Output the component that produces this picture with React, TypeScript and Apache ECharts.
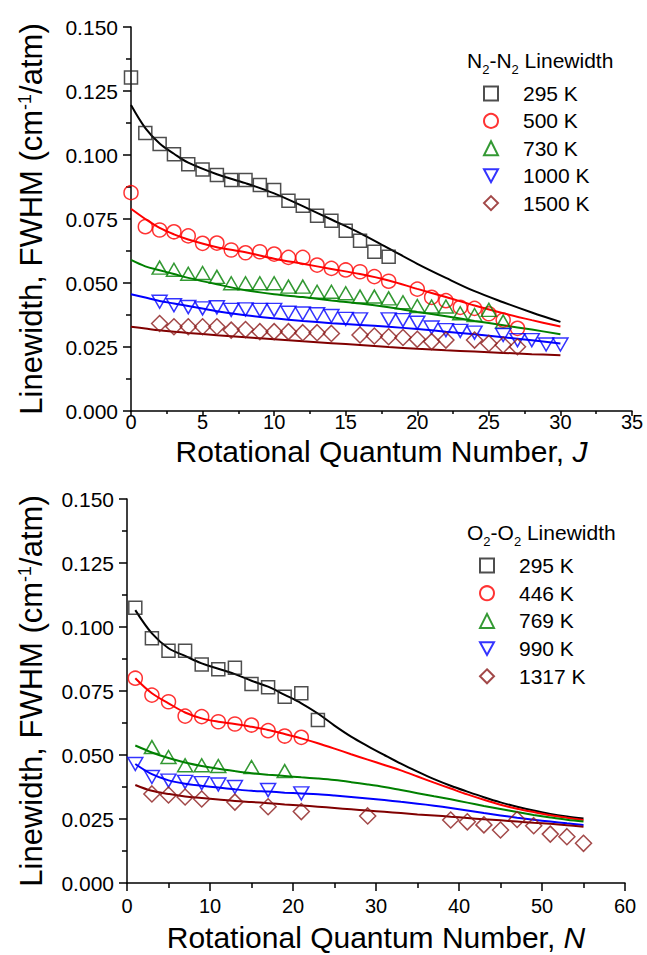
import React, { useEffect, useRef } from 'react';
import * as echarts from 'echarts';

const FONT = '"Liberation Sans", Arial, Helvetica, sans-serif';

// ---------- Top panel: N2-N2 linewidth vs J ----------
const topJ295 = [0, 1, 2, 3, 4, 5, 6, 7, 8, 9, 10, 11, 12, 13, 14, 15, 16, 17, 18];
const topW295 = [0.1303, 0.1086, 0.1043, 0.1003, 0.0964, 0.0943, 0.0922, 0.0902, 0.0902, 0.0883, 0.0863, 0.0821, 0.0802, 0.0763, 0.0743, 0.0704, 0.0665, 0.0622, 0.0603];

const topJ500 = [0, 1, 2, 3, 4, 5, 6, 7, 8, 9, 10, 11, 12, 13, 14, 15, 16, 17, 18, 20, 21, 22, 23, 24, 25, 26, 27];
const topW500 = [0.0853, 0.072, 0.0707, 0.07, 0.0684, 0.0655, 0.0656, 0.0629, 0.0618, 0.0622, 0.0613, 0.06, 0.06, 0.057, 0.0557, 0.0551, 0.0544, 0.0525, 0.0507, 0.0476, 0.0444, 0.0431, 0.0405, 0.0401, 0.038, 0.0355, 0.0323];

const topJ730 = [2, 3, 4, 5, 6, 7, 8, 9, 10, 11, 12, 13, 14, 15, 16, 17, 18, 19, 20, 21, 22, 23, 24, 25, 26];
const topW730 = [0.056, 0.0552, 0.0536, 0.0539, 0.0524, 0.0499, 0.0499, 0.0499, 0.0499, 0.0486, 0.0486, 0.0466, 0.0466, 0.046, 0.0447, 0.0447, 0.044, 0.0425, 0.041, 0.0408, 0.0408, 0.0382, 0.0375, 0.0395, 0.0349];

const topJ1000 = [2, 3, 4, 5, 6, 7, 8, 9, 10, 11, 12, 13, 14, 15, 16, 18, 19, 20, 21, 22, 23, 24, 26, 27, 28, 29, 30];
const topW1000 = [0.0427, 0.0413, 0.0406, 0.0401, 0.0405, 0.0395, 0.0397, 0.0395, 0.0395, 0.0384, 0.0381, 0.0378, 0.0371, 0.036, 0.0358, 0.0358, 0.0355, 0.0345, 0.0326, 0.0316, 0.0313, 0.0306, 0.0297, 0.0277, 0.0277, 0.026, 0.026];

const topJ1500 = [2, 3, 4, 5, 6, 7, 8, 9, 10, 11, 12, 13, 14, 16, 17, 18, 19, 20, 21, 22, 24, 25, 26, 27];
const topW1500 = [0.0342, 0.0329, 0.0329, 0.0329, 0.0329, 0.0316, 0.0318, 0.031, 0.031, 0.031, 0.0306, 0.0306, 0.0303, 0.0297, 0.0293, 0.029, 0.0287, 0.028, 0.0271, 0.0277, 0.0277, 0.0264, 0.0258, 0.0251];

// fitted curves (top)
const topFitJ = [0, 1, 2, 3, 4, 6, 8, 10, 12, 14, 16, 18, 20, 22, 24, 26, 28, 30];
const topFit295 = [0.1195, 0.1105, 0.1045, 0.1005, 0.097, 0.0925, 0.089, 0.085, 0.08, 0.0748, 0.0695, 0.0635, 0.0575, 0.052, 0.0468, 0.0425, 0.0385, 0.0348];
const topFit500 = [0.079, 0.075, 0.0715, 0.069, 0.067, 0.064, 0.062, 0.0595, 0.0575, 0.0555, 0.0535, 0.051, 0.0477, 0.0445, 0.0412, 0.0382, 0.0355, 0.033];
const topFit730 = [0.059, 0.0565, 0.055, 0.0535, 0.052, 0.0495, 0.0472, 0.0456, 0.0445, 0.0432, 0.042, 0.0405, 0.0387, 0.037, 0.0352, 0.0335, 0.0318, 0.03];
const topFit1000 = [0.0456, 0.0443, 0.043, 0.042, 0.041, 0.039, 0.0374, 0.0362, 0.0352, 0.0343, 0.0336, 0.0329, 0.032, 0.031, 0.03, 0.0288, 0.0276, 0.0264];
const topFit1500 = [0.0329, 0.0322, 0.0315, 0.031, 0.0305, 0.0296, 0.0288, 0.028, 0.0272, 0.0265, 0.0258, 0.025, 0.0243, 0.0237, 0.0232, 0.0227, 0.0222, 0.0218];

const topNames = ['295 K', '500 K', '730 K', '1000 K', '1500 K'];

// ---------- Bottom panel: O2-O2 linewidth vs N ----------
const botN295 = [1, 3, 5, 7, 9, 11, 13, 15, 17, 19, 21, 23];
const botW295 = [0.1075, 0.0956, 0.0907, 0.0907, 0.0854, 0.0835, 0.0841, 0.0777, 0.0765, 0.0728, 0.0741, 0.0637];

const botN446 = [1, 3, 5, 7, 9, 11, 13, 15, 17, 19, 21];
const botW446 = [0.08, 0.0734, 0.0708, 0.0652, 0.065, 0.063, 0.0621, 0.0617, 0.0595, 0.0574, 0.0569];

const botN769 = [3, 5, 7, 9, 11, 15, 19];
const botW769 = [0.0531, 0.0492, 0.046, 0.046, 0.0457, 0.0453, 0.0437];

const botN990 = [1, 3, 5, 7, 9, 11, 13, 17, 21];
const botW990 = [0.0465, 0.0414, 0.04, 0.0395, 0.039, 0.0385, 0.0375, 0.0363, 0.035];

const botN1317 = [3, 5, 7, 9, 13, 17, 21, 29, 39, 41, 43, 45, 47, 49, 51, 53, 55];
const botW1317 = [0.0348, 0.0344, 0.0336, 0.0328, 0.0316, 0.0298, 0.0279, 0.0262, 0.0246, 0.0239, 0.0227, 0.0207, 0.0248, 0.0224, 0.0191, 0.0181, 0.0155];

// fitted curves (bottom)
const botFitN = [1, 3, 5, 7, 9, 11, 13, 15, 17, 19, 21, 23, 25, 27, 29, 31, 33, 35, 37, 39, 41, 43, 45, 47, 49, 51, 53, 55];
const botFit295 = [0.1066, 0.0975, 0.0917, 0.0887, 0.0858, 0.0837, 0.0816, 0.079, 0.0767, 0.0735, 0.0702, 0.0662, 0.0615, 0.0572, 0.0535, 0.05, 0.0466, 0.0435, 0.0406, 0.038, 0.0357, 0.0335, 0.0315, 0.0298, 0.0283, 0.027, 0.026, 0.0252];
const botFit446 = [0.08, 0.0741, 0.0702, 0.0666, 0.0643, 0.063, 0.0621, 0.061, 0.0598, 0.0582, 0.0565, 0.0546, 0.0525, 0.0503, 0.0482, 0.0461, 0.044, 0.0416, 0.0392, 0.0369, 0.0346, 0.0325, 0.0306, 0.029, 0.0277, 0.0265, 0.0255, 0.0246];
const botFit769 = [0.0537, 0.051, 0.0488, 0.0471, 0.0457, 0.0446, 0.0437, 0.0429, 0.0423, 0.0418, 0.0413, 0.0408, 0.0402, 0.0394, 0.0385, 0.0375, 0.0363, 0.0351, 0.0339, 0.0327, 0.0314, 0.0301, 0.0289, 0.0277, 0.0266, 0.0256, 0.0247, 0.024];
const botFit990 = [0.0465, 0.0425, 0.0401, 0.0388, 0.038, 0.0373, 0.0366, 0.036, 0.0357, 0.0353, 0.035, 0.0347, 0.0342, 0.0336, 0.033, 0.0324, 0.0317, 0.031, 0.0302, 0.0293, 0.0283, 0.0273, 0.0264, 0.0255, 0.0247, 0.024, 0.0233, 0.0227];
const botFit1317 = [0.0383, 0.036, 0.0348, 0.0338, 0.0332, 0.0326, 0.032, 0.0316, 0.0312, 0.0307, 0.0303, 0.0298, 0.0293, 0.0288, 0.0283, 0.0278, 0.0273, 0.0268, 0.0264, 0.0259, 0.0254, 0.0249, 0.0245, 0.024, 0.0235, 0.0231, 0.0226, 0.022];

const botNames = ['295 K', '446 K', '769 K', '990 K', '1317 K'];

// ---------- styles ----------
const markerColors = ['#222222', '#ff0000', '#008000', '#0000ff', '#8b1a1a'];
const lineColors = ['#000000', '#ff0000', '#008000', '#0000ff', '#800000'];
const DOWN_TRI = 'path://M0,0L12,0L6,11Z';
const symbols = ['rect', 'circle', 'triangle', DOWN_TRI, 'diamond'];
const symbolSizes: any[] = [13, 14, [15, 13], [15, 13], 16];

const zip = (xs: number[], ys: number[]) => xs.map((x, i) => [x, ys[i]]);

function scatterSeries(name: string, idx: number, data: number[][], axis: number) {
  return {
    type: 'scatter',
    name,
    xAxisIndex: axis,
    yAxisIndex: axis,
    data,
    symbol: symbols[idx],
    symbolSize: symbolSizes[idx],
    itemStyle: { color: 'rgba(0,0,0,0)', borderColor: markerColors[idx], borderWidth: 1.5 },
    z: 3,
    silent: true,
  };
}

function lineSeries(idx: number, data: number[][], axis: number) {
  return {
    type: 'line',
    xAxisIndex: axis,
    yAxisIndex: axis,
    data,
    showSymbol: false,
    smooth: 0.35,
    lineStyle: { color: lineColors[idx], width: 2 },
    itemStyle: { color: lineColors[idx] },
    z: 2,
    silent: true,
  };
}

function yAxis(gridIndex: number, nameGap: number) {
  return {
    type: 'value',
    gridIndex,
    min: 0,
    max: 0.15,
    interval: 0.025,
    name: 'Linewidth, FWHM (cm{sup|-1}/atm)',
    nameLocation: 'middle',
    nameGap,
    nameMoveOverlap: false,
    nameTextStyle: {
      fontFamily: FONT,
      fontSize: 31,
      color: '#000',
      rich: {
        sup: { fontFamily: FONT, fontSize: 18, color: '#000', verticalAlign: 'top', lineHeight: 18 },
      },
    },
    axisLine: { show: true, onZero: false, lineStyle: { color: '#000', width: 1.5 } },
    axisTick: { show: true, length: 8, lineStyle: { color: '#000', width: 1.5 } },
    minorTick: { show: true, splitNumber: 2, length: 5, lineStyle: { color: '#000', width: 1.5 } },
    splitLine: { show: false },
    axisLabel: {
      fontFamily: FONT,
      fontSize: 21,
      color: '#000',
      margin: 13,
      formatter: (v: number) => v.toFixed(3),
    },
  };
}

function xAxis(
  gridIndex: number,
  max: number,
  interval: number,
  letter: string,
  labelMargin: number,
  nameGap: number,
  tickLen: number,
  minorLen: number
) {
  return {
    type: 'value',
    gridIndex,
    min: 0,
    max,
    interval,
    name: 'Rotational Quantum Number, {i|' + letter + '}',
    nameLocation: 'middle',
    nameGap,
    nameMoveOverlap: false,
    nameTextStyle: {
      fontFamily: FONT,
      fontSize: 30,
      lineHeight: 22,
      color: '#000',
      rich: { i: { fontFamily: FONT, fontSize: 30, lineHeight: 22, fontStyle: 'italic', color: '#000' } },
    },
    axisLine: { show: true, onZero: false, lineStyle: { color: '#000', width: 1.5 } },
    axisTick: { show: true, length: tickLen, lineStyle: { color: '#000', width: 1.5 } },
    minorTick: { show: true, splitNumber: 2, length: minorLen, lineStyle: { color: '#000', width: 1.5 } },
    splitLine: { show: false },
    axisLabel: { fontFamily: FONT, fontSize: 20, lineHeight: 16, color: '#000', margin: labelMargin },
  };
}

function legendTitle(a: string, left: number, top: number) {
  return {
    type: 'text',
    left,
    top,
    style: {
      text: `{n|${a}}{s|2}{n|-${a}}{s|2}{n| Linewidth}`,
      fill: '#000',
      rich: {
        n: { fontFamily: FONT, fontSize: 21, lineHeight: 30, fill: '#000' },
        s: { fontFamily: FONT, fontSize: 13, lineHeight: 13, verticalAlign: 'bottom', fill: '#000' },
      },
    },
  };
}

function legend(names: string[], left: number, top: number, gap: number) {
  return {
    data: names,
    orient: 'vertical',
    left,
    top,
    padding: 0,
    itemWidth: 14,
    itemHeight: 14,
    itemGap: gap,
    selectedMode: false,
    textStyle: { fontFamily: FONT, fontSize: 21, color: '#000', lineHeight: 20, padding: [0, 0, 0, 20] },
  };
}

export default function App() {
  const ref = useRef<HTMLDivElement>(null);

  useEffect(() => {
    if (!ref.current) return;
    const chart = echarts.init(ref.current, null, { renderer: 'svg' });

    const topData = [zip(topJ295, topW295), zip(topJ500, topW500), zip(topJ730, topW730), zip(topJ1000, topW1000), zip(topJ1500, topW1500)];
    const topFits = [topFit295, topFit500, topFit730, topFit1000, topFit1500].map((f) => zip(topFitJ, f));
    const botData = [zip(botN295, botW295), zip(botN446, botW446), zip(botN769, botW769), zip(botN990, botW990), zip(botN1317, botW1317)];
    const botFits = [botFit295, botFit446, botFit769, botFit990, botFit1317].map((f) => zip(botFitN, f));

    const series: any[] = [];
    topFits.forEach((d, i) => series.push(lineSeries(i, d, 0)));
    botFits.forEach((d, i) => series.push(lineSeries(i, d, 1)));
    topData.forEach((d, i) => series.push(scatterSeries(topNames[i], i, d, 0)));
    botData.forEach((d, i) => series.push(scatterSeries(botNames[i], i, d, 1)));

    chart.setOption({
      animation: false,
      backgroundColor: '#fff',
      textStyle: { fontFamily: FONT },
      grid: [
        { left: 131, top: 27, width: 501, height: 384 },
        { left: 127, top: 499, width: 498, height: 384 },
      ],
      xAxis: [
        xAxis(0, 35, 5, 'J', 3, 29, 5, 3),
        xAxis(1, 60, 10, 'N', 15, 43, 8, 5),
      ],
      yAxis: [yAxis(0, 84), yAxis(1, 80)],
      legend: [legend(topNames, 483, 83, 6.4), legend(botNames, 479, 555, 6.7)],
      graphic: [legendTitle('N', 467, 50), legendTitle('O', 467, 522)],
      series,
    });

    return () => chart.dispose();
  }, []);

  return (
    <div
      ref={ref}
      style={{ position: 'absolute', left: 0, top: 0, width: 647, height: 955, background: '#fff' }}
    />
  );
}
